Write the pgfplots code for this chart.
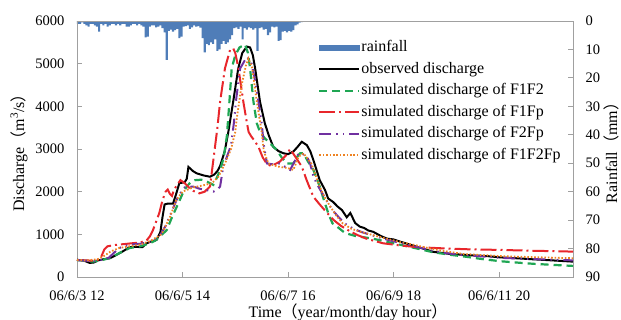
\documentclass[border=0pt]{standalone}
\usepackage{fontspec}
\setmainfont{Liberation Serif}
\newfontfamily\cjk{Noto Sans CJK SC}
\usepackage{pgfplots}
\pgfplotsset{compat=1.18}
\definecolor{rainblue}{HTML}{4F7DB8}
\definecolor{simgreen}{HTML}{1FA653}
\definecolor{simred}{HTML}{E8262B}
\definecolor{simpurple}{HTML}{7030A0}
\definecolor{simorange}{HTML}{EE8322}
\definecolor{axgray}{HTML}{A0A0A0}
\pgfplotsset{
  common/.style={
    at={(0,0)}, anchor=south west, scale only axis,
    width=496pt, height=256pt,
    xmin=0, xmax=235,
    tick align=inside,
    major tick length=5pt,
    axis line style={axgray, line width=0.9pt},
    every tick/.style={axgray, line width=0.9pt},
    tick label style={font=\fontsize{14.5}{17}\selectfont, black},
    /pgf/number format/assume math mode=true,
    /pgf/number format/1000 sep={},
  }
}
\begin{document}
\begin{tikzpicture}
\begin{axis}[common,
  ymin=0, ymax=90, y dir=reverse,
  axis x line=none, axis y line*=right,
  ytick={0,10,...,90},
  yticklabel style={xshift=9pt},
  every axis y label/.style={at={(axis description cs:1.0766,0.5)}, rotate=90, anchor=center, font=\fontsize{16}{19}\selectfont},
  ylabel={Rainfall{\cjk （}mm{\cjk ）}},
]
\addplot[ybar interval, fill=rainblue, draw=none] table {
0 1
1 1
2 0.5
3 1
4 1.5
5 2
6 1
7 1
8 1.5
9 2
10 3.7
11 1
12 1.5
13 1
14 2
15 1.5
16 1
17 1
18 1.5
19 1
20 1.5
21 1
22 1
23 2
24 2
25 1.5
26 1
27 1
28 1.5
29 1
30 1.5
31 2
32 5.8
33 5.5
34 2
35 1.5
36 1.5
37 2.2
38 2
39 1.5
40 2.5
41 4
42 13.7
43 3.5
44 3
45 3.7
46 3.2
47 2.8
48 6
49 5.5
50 2
51 1.8
52 1.5
53 2.8
54 2.2
55 1.5
56 2
57 1.8
58 2.3
59 6
60 11
61 8
62 8.5
63 7.5
64 8
65 6.5
66 10.5
67 10
68 8
69 7
70 8
71 7.5
72 6.5
73 5
74 2.5
75 2.2
76 2.8
77 2
78 6.5
79 2.5
80 3
81 2.2
82 2.5
83 3
84 2.5
85 10.5
86 2.5
87 2.2
88 3
89 2.8
90 5
91 4
92 2
93 2.2
94 2
95 7
96 6.7
97 3.7
98 3.5
99 4
100 3.5
101 3.7
102 3.2
103 1.5
104 1.2
105 0.6
106 0.4
107 0
};
\end{axis}
\begin{axis}[common,
  ymin=0, ymax=6000,
  ytick={0,1000,...,6000},
  xtick={0,50,100,150,200},
  xticklabels={06/6/3 12, 06/6/5 14, 06/6/7 16, 06/6/9 18, 06/6/11 20},
  tick pos=left,
  yticklabel style={xshift=-9pt},
  xticklabel style={yshift=-10pt},
  every axis y label/.style={at={(axis description cs:-0.117,0.5)}, rotate=90, anchor=center, font=\fontsize{16}{19}\selectfont},
  every axis x label/.style={at={(axis description cs:0.5464,-0.160)}, anchor=base, font=\fontsize{16}{19}\selectfont},
  ylabel={Discharge{\cjk （}m\textsuperscript{3}/s{\cjk ）}},
  xlabel={Time{\cjk （}year/month/day hour{\cjk ）}},
  legend style={at={(axis description cs:0.486,0.931)}, anchor=north west,
    draw=none, fill=none, inner sep=0pt, row sep=3.5pt,
    font=\fontsize{16}{19}\selectfont,
    nodes={inner sep=1pt, text height=12pt, text depth=4pt}},
  legend cell align=left,
  legend image code/.code={\draw[#1] (0pt,0pt) -- (40pt,0pt);},
]
\addlegendimage{legend image code/.code={\fill[rainblue] (0pt,-2.5pt) rectangle (40pt,2.5pt);}}
\addlegendentry{rainfall}
\addplot[black, line width=2pt] coordinates {(0,400)(3,390)(6,330)(8,340)(10,390)(13,420)(15.6,440)(18,500)(21,580)(23,640)(25,700)(28,705)(31,700)(33,790)(35,830)(37.7,870)(39.5,1050)(40.5,1400)(41.5,1700)(43,1720)(45.5,1720)(47,1950)(48.5,2200)(51,2220)(52,2300)(52.8,2580)(55,2480)(56.7,2430)(60,2380)(63,2350)(65,2400)(66.5,2480)(67.8,2600)(70,2950)(71.7,3400)(74,4110)(76.4,4890)(78.3,5250)(80.5,5400)(82,5380)(83.3,5200)(84.4,4890)(86.7,4110)(89,3600)(91,3300)(93,3050)(95.5,2950)(97.8,2900)(100,2880)(102.5,2940)(104.5,3050)(106.5,3170)(108.9,3090)(110.5,2950)(112,2740)(115,2270)(117.5,2040)(119,1840)(121.3,1760)(123.5,1650)(125.5,1570)(127.8,1400)(129.5,1500)(131.8,1265)(134,1180)(136,1150)(138,1090)(140.3,1060)(144,960)(146.8,900)(150,880)(153,830)(157,770)(161,710)(165,650)(168.7,590)(172,570)(176.8,540)(180,530)(184.7,515)(190,500)(194.2,490)(200.5,460)(208,440)(216,415)(225,390)(235,360)};
\addlegendentry{observed discharge}
\addplot[simgreen, line width=2.2pt, dash pattern=on 8pt off 5pt] coordinates {(0,400)(5,370)(8,360)(12,400)(16,450)(20,560)(25,680)(30,720)(34,780)(37,850)(40,980)(42.5,1100)(45,1400)(47.3,1650)(50,1950)(52,2120)(54,2230)(56,2270)(59,2280)(61,2250)(63,2200)(64.6,2160)(66,2300)(67.8,2500)(69.5,2800)(71,3300)(72.2,4100)(73.3,4890)(75,5200)(77,5380)(79.6,5450)(81,5250)(82,4890)(83.6,4110)(85.2,3600)(86.7,3400)(89,3250)(91.5,3130)(94.6,2980)(97,2800)(99.4,2660)(102.5,2660)(104,2800)(105.7,2900)(107.3,2900)(109.5,2700)(112,2510)(115,2120)(117,1800)(119,1500)(121,1260)(124,1150)(127,1030)(132,960)(140,900)(150,790)(160,680)(168.7,580)(177,520)(185,470)(192,420)(200.5,370)(208,340)(216,310)(225,285)(235,260)};
\addlegendentry{simulated discharge of F1F2}
\addplot[simred, line width=2pt, dash pattern=on 16pt off 4pt on 2pt off 4pt] coordinates {(0,400)(4,390)(8,380)(11,420)(13,650)(14.5,720)(18,750)(22,770)(26,790)(30,810)(33,860)(34.5,950)(36,1100)(37.5,1300)(39,1500)(40.5,1800)(42,2000)(43,2050)(44,1950)(45,1900)(46,2050)(49,2270)(51,2200)(53,2100)(55,2020)(58,1960)(60.5,2000)(63,2120)(64.6,2740)(66.5,3490)(67.8,4110)(70.1,4890)(72.5,5320)(74,5360)(75,5250)(76.5,4890)(78.8,4110)(80.4,3640)(81.3,3400)(82.5,3300)(84,3200)(86,3050)(88,2800)(90,2650)(92,2600)(94,2650)(96,2700)(99,2850)(101,3000)(103,2850)(106.5,2590)(108.8,2270)(112,1880)(115,1700)(118,1530)(121.5,1340)(125,1200)(129.4,1070)(133,980)(137,900)(145,790)(153,740)(161,700)(174,670)(185,650)(200,635)(216,615)(235,595)};
\addlegendentry{simulated discharge of F1Fp}
\addplot[simpurple, line width=2pt, dash pattern=on 12pt off 5pt on 1.5pt off 5pt on 1.5pt off 5pt] coordinates {(0,400)(5,380)(10,380)(15,450)(20,680)(25,760)(30,780)(35,830)(39,950)(42,1200)(45,1550)(48,1900)(51,2100)(55,2120)(58,2070)(62,2030)(64.6,2000)(66.5,2050)(67.8,2120)(69.3,2590)(72,2950)(73,3100)(74.3,3600)(75.5,4200)(77.3,4890)(80.5,5160)(82.5,5050)(84,4700)(86,4100)(87.5,3600)(88.5,3100)(90,2660)(93,2640)(96,2660)(98,2600)(101,2510)(103,2700)(105,2900)(107,2880)(109,2820)(110.5,2650)(112,2350)(114,2150)(117.5,1850)(121,1570)(124,1400)(127,1250)(131,1130)(135,1050)(145,900)(153,800)(160,720)(168,620)(175,560)(183,510)(190,490)(200,450)(216,420)(235,390)};
\addlegendentry{simulated discharge of F2Fp}
\addplot[simorange, line width=1.8pt, dash pattern=on 1.6pt off 1.8pt] coordinates {(0,400)(5,390)(10,420)(13,500)(16,600)(20,680)(25,720)(30,760)(35,850)(40,1000)(42,1200)(44,1400)(47,1800)(50,2000)(55,2100)(60,2150)(64,2200)(67,2350)(70,2650)(73,3000)(75,3400)(75.7,3720)(78,4500)(80,4950)(81.2,5120)(83,4900)(85.2,4110)(87.5,3400)(88.5,2950)(90.7,2660)(95,2590)(100,2550)(102.5,2510)(105,2820)(107.3,2900)(111,2660)(115,2120)(117,1900)(120,1650)(123,1430)(126,1250)(130,1130)(135,1050)(145,920)(153,820)(160,750)(168,660)(175,600)(183,540)(190,520)(200,490)(216,465)(235,440)};
\addlegendentry{simulated discharge of F1F2Fp}
\end{axis}
\pgfresetboundingbox
\path[use as bounding box] (-77pt,-43pt) rectangle (544pt,277pt);
\end{tikzpicture}
\end{document}
